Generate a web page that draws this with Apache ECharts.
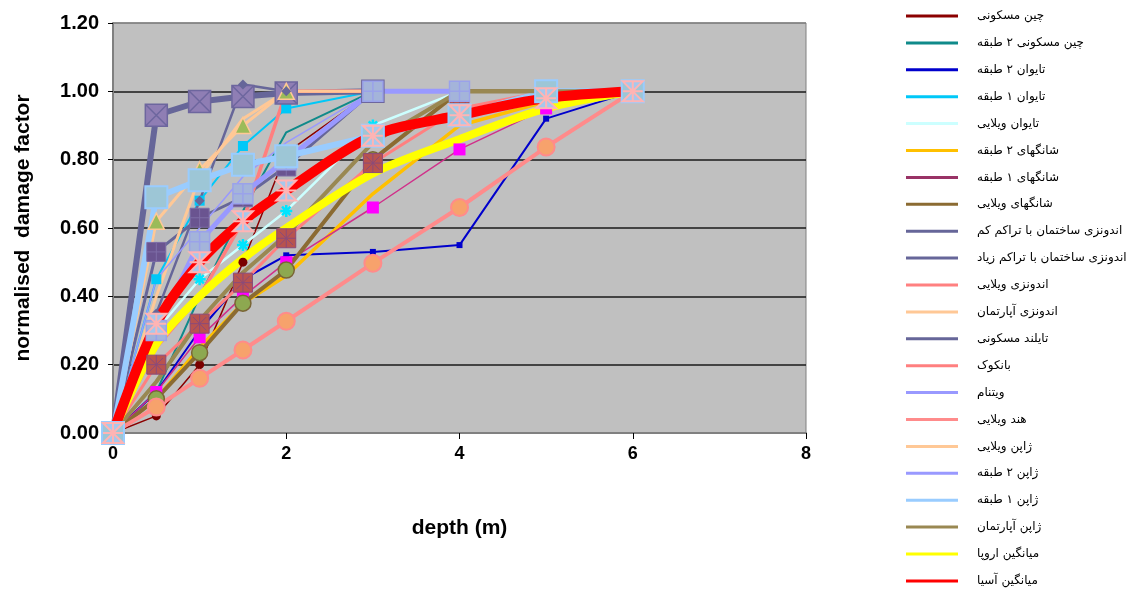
<!DOCTYPE html>
<html><head><meta charset="utf-8">
<script src="https://cdn.jsdelivr.net/npm/echarts@6/dist/echarts.min.js"></script>
<style>html,body{margin:0;padding:0;background:#fff}#c{width:1134px;height:590px}</style>
</head><body><div id="c"></div>
<script>
// depth values (m) shared by all series
const depth = [0, 0.5, 1, 1.5, 2, 3, 4, 5, 6];
// series names (legend order)
const names = [
  'چین مسکونی','چین مسکونی ۲ طبقه','تایوان ۲ طبقه','تایوان ۱ طبقه','تایوان ویلایی',
  'شانگهای ۲ طبقه','شانگهای ۱ طبقه','شانگهای ویلایی','اندونزی ساختمان با تراکم کم',
  'اندونزی ساختمان با تراکم زیاد','اندونزی ویلایی','اندونزی آپارتمان','تایلند مسکونی',
  'بانکوک','ویتنام','هند ویلایی','ژاپن ویلایی','ژاپن ۲ طبقه','ژاپن ۱ طبقه','ژاپن آپارتمان',
  'میانگین اروپا','میانگین آسیا'
];
// damage factors, aligned with depth[]
const chinaRes      = [0, 0.05, 0.20, 0.50, 0.82, 1.00];
const china2        = [0, 0.12, 0.40, 0.65, 0.88, 1.00];
const taiwan2       = [0, 0.12, 0.30, 0.45, 0.52, 0.53, 0.55, 0.92, 1.00];
const taiwan1       = [0, 0.45, 0.68, 0.84, 0.95, 1.00];
const taiwanVilla   = [0, 0.30, 0.45, 0.55, 0.65, 0.90, 1.00];
const shanghai2     = [0, 0.10, 0.25, 0.38, 0.46, 0.70, 0.90, 0.97, 1.00];
const shanghai1     = [0, 0.12, 0.28, 0.40, 0.50, 0.66, 0.83, 0.95, 1.00];
const shanghaiVilla = [0, 0.10, 0.235, 0.38, 0.477, 0.80, 1.00, 1.00, 1.00];
const indoLow       = [0, 0.53, 0.63, 0.69, 0.78, 1.00];
const indoHigh      = [0, 0.93, 0.97, 0.985, 0.995, 1.00];
const indoVilla     = [0, 0.20, 0.32, 0.44, 0.57, 0.79, 0.95, 1.00, 1.00];
const indoApt       = [0, 0.62, 0.77, 0.90, 1.00, 1.00];
const thaiRes       = [0, 0.35, 0.68, 1.02, 1.00];
const bangkok       = [0, 0.25, 0.40, 0.62, 1.00, 1.00];
const vietnam       = [0, 0.30, 0.56, 0.70, 0.80, 1.00, 1.00];
const indiaVilla    = [0, 0.076, 0.16, 0.243, 0.327, 0.497, 0.66, 0.837, 1.00];
const japanVilla    = [0, 0.40, 0.75, 0.92, 1.00, 1.00];
const japan2        = [0, 0.45, 0.60, 0.75, 0.85, 1.00];
const japan1        = [0, 0.69, 0.74, 0.785, 0.81, 0.87, 0.93, 1.00, 1.00];
const japanApt      = [0, 0.15, 0.33, 0.47, 0.58, 0.85, 1.00, 1.00, 1.00];
const europeAvg     = [0, 0.26, 0.40, 0.51, 0.60, 0.76, 0.86, 0.95, 1.00];
const asiaAvg       = [0, 0.32, 0.50, 0.62, 0.71, 0.87, 0.93, 0.98, 1.00];
const yTicks = [0, 0.2, 0.4, 0.6, 0.8, 1.0, 1.2];
const xTicks = [0, 2, 4, 6, 8];

const XSQ = 'path://M0,0L10,0L10,10L0,10Z M0,0L10,10 M10,0L0,10';
const PSQ = 'path://M0,0L10,0L10,10L0,10Z M5,0L5,10 M0,5L10,5';
const STAR = 'path://M0,0L10,0L0,10L10,10Z M5,0L5,10 M0,5L10,5 M1,1L9,9 M9,1L1,9';
const ASTER = 'path://M5,0L5,10 M0,5L10,5 M1.5,1.5L8.5,8.5 M8.5,1.5L1.5,8.5';

const styles = [
  {ys: chinaRes, color:'#8B0000', w:1.5, sym:'circle', ss:9, sf:'#7A0000'},
  {ys: china2, color:'#0F8A8A', w:2},
  {ys: taiwan2, color:'#0000CC', w:2, sym:'rect', ss:6, sf:'#0000CC'},
  {ys: taiwan1, color:'#00C8F8', w:2, sym:'rect', ss:10, sf:'#00C8F8'},
  {ys: taiwanVilla, color:'#CCFFFF', w:2.5, sym:ASTER, ss:12, sf:'rgba(0,0,0,0)', sb:'#00E5FF', sbw:2.5},
  {ys: shanghai2, color:'#FFC000', w:3.5},
  {ys: shanghai1, color:'#D0308A', lc:'#993366', w:1.5, sym:'rect', ss:12, sf:'#FF00FF'},
  {ys: shanghaiVilla, color:'#8B6B32', w:4, sym:'circle', ss:16, sf:'#8DA850', sb:'#7A6535', sbw:1.5},
  {ys: indoLow, color:'#666699', w:3, sym:PSQ, ss:19, sf:'#6A5490', sb:'#7E6CA6', sbw:1},
  {ys: indoHigh, color:'#666699', w:6, sym:XSQ, ss:22, sf:'#8F7EB4', sb:'#6D669E', sbw:1.5},
  {ys: indoVilla, color:'#FF8080', w:3, sym:ASTER.replace('path://','path://M0,0L10,0L10,10L0,10Z '), ss:19, sf:'#B8534F', sb:'#8A4A7A', sbw:1},
  {ys: indoApt, color:'#FFC896', w:3, sym:'triangle', ss:16, sf:'#9BBB59', sb:'#FFC896', sbw:1.5},
  {ys: thaiRes, color:'#666699', w:2.5, sym:'diamond', ss:10, sf:'#666699'},
  {ys: bangkok, color:'#FF7F7F', w:3.5},
  {ys: vietnam, color:'#9999FF', w:5, sym:PSQ, ss:20, sf:'#A4B4DA', sb:'#9AA2EA', sbw:1.5},
  {ys: indiaVilla, color:'#FF8B8B', w:4, sym:'circle', ss:17, sf:'#F7A26C', sb:'#FF8B8B', sbw:2},
  {ys: japanVilla, color:'#FFC896', w:3},
  {ys: japan2, color:'#9999FF', w:1.5},
  {ys: japan1, color:'#99CCFF', w:6, sym:'rect', ss:22, sf:'#9DC6D6', sb:'#99CCFF', sbw:2},
  {ys: japanApt, color:'#998852', w:4},
  {ys: europeAvg, color:'#FFFF00', w:8, smooth:0.3},
  {ys: asiaAvg, color:'#FF0000', w:10, smooth:0.3, sym:STAR, ss:20, sf:'#A6C8EC', sb:'#FFB4B4', sbw:2}
];

const series = styles.map((s, k) => ({
  name: names[k],
  type: 'line',
  data: s.ys.map((y, i) => [depth[i], y]),
  smooth: s.smooth || false,
  showSymbol: !!s.sym,
  symbol: s.sym || 'none',
  symbolSize: s.ss || 0,
  lineStyle: {color: s.color, width: s.w},
  itemStyle: {color: s.sf || s.color, borderColor: s.sb || s.sf || s.color, borderWidth: s.sbw || 0},
  emphasis: {disabled: true},
  animation: false,
  z: 2
}));

const legendData = styles.map((s, k) => ({
  name: names[k], icon: 'rect',
  itemStyle: {color: s.lc || s.color, borderWidth: 0}
}));

const chart = echarts.init(document.getElementById('c'), null, {renderer: 'canvas'});
chart.setOption({
  animation: false,
  backgroundColor: '#ffffff',
  grid: {left: 113, right: 328, top: 23, bottom: 157, show: true, backgroundColor: '#C0C0C0', borderColor: '#808080', borderWidth: 1},
  xAxis: {
    type: 'value', min: xTicks[0], max: xTicks[xTicks.length - 1], interval: 2,
    name: 'depth (m)', nameLocation: 'middle', nameGap: 85,
    nameTextStyle: {fontFamily: 'Liberation Sans', fontWeight: 'bold', fontSize: 21, color: '#000'},
    axisLine: {show: true, lineStyle: {color: '#808080', width: 2}},
    axisTick: {show: true, length: 6, lineStyle: {color: '#000'}},
    axisLabel: {fontFamily: 'Liberation Sans', fontWeight: 'bold', fontSize: 18, color: '#000', margin: 12},
    splitLine: {show: false}
  },
  yAxis: {
    type: 'value', min: yTicks[0], max: yTicks[yTicks.length - 1], interval: 0.2,
    name: 'normalised  damage factor', nameLocation: 'middle', nameGap: 79, nameRotate: 90,
    nameTextStyle: {fontFamily: 'Liberation Sans', fontWeight: 'bold', fontSize: 21, color: '#000'},
    axisLine: {show: true, lineStyle: {color: '#808080', width: 2}},
    axisTick: {show: true, length: 5, lineStyle: {color: '#000'}},
    axisLabel: {fontFamily: 'Liberation Sans', fontWeight: 'bold', fontSize: 20, color: '#000', margin: 14,
      formatter: v => v.toFixed(2)},
    splitLine: {show: true, lineStyle: {color: ['#1a1a1a','#1a1a1a','#1a1a1a','#1a1a1a','#1a1a1a','#1a1a1a','#808080'], width: 1.5}}
  },
  legend: {
    orient: 'vertical', left: 906, top: 9, padding: 0,
    itemWidth: 52, itemHeight: 3, itemGap: 12.9,
    selectedMode: false,
    textStyle: {fontFamily: 'DejaVu Sans', fontSize: 12, color: '#000', lineHeight: 14, padding: [0, 0, 0, 14]},
    data: legendData
  },
  series: series
});
</script>
</body></html>
